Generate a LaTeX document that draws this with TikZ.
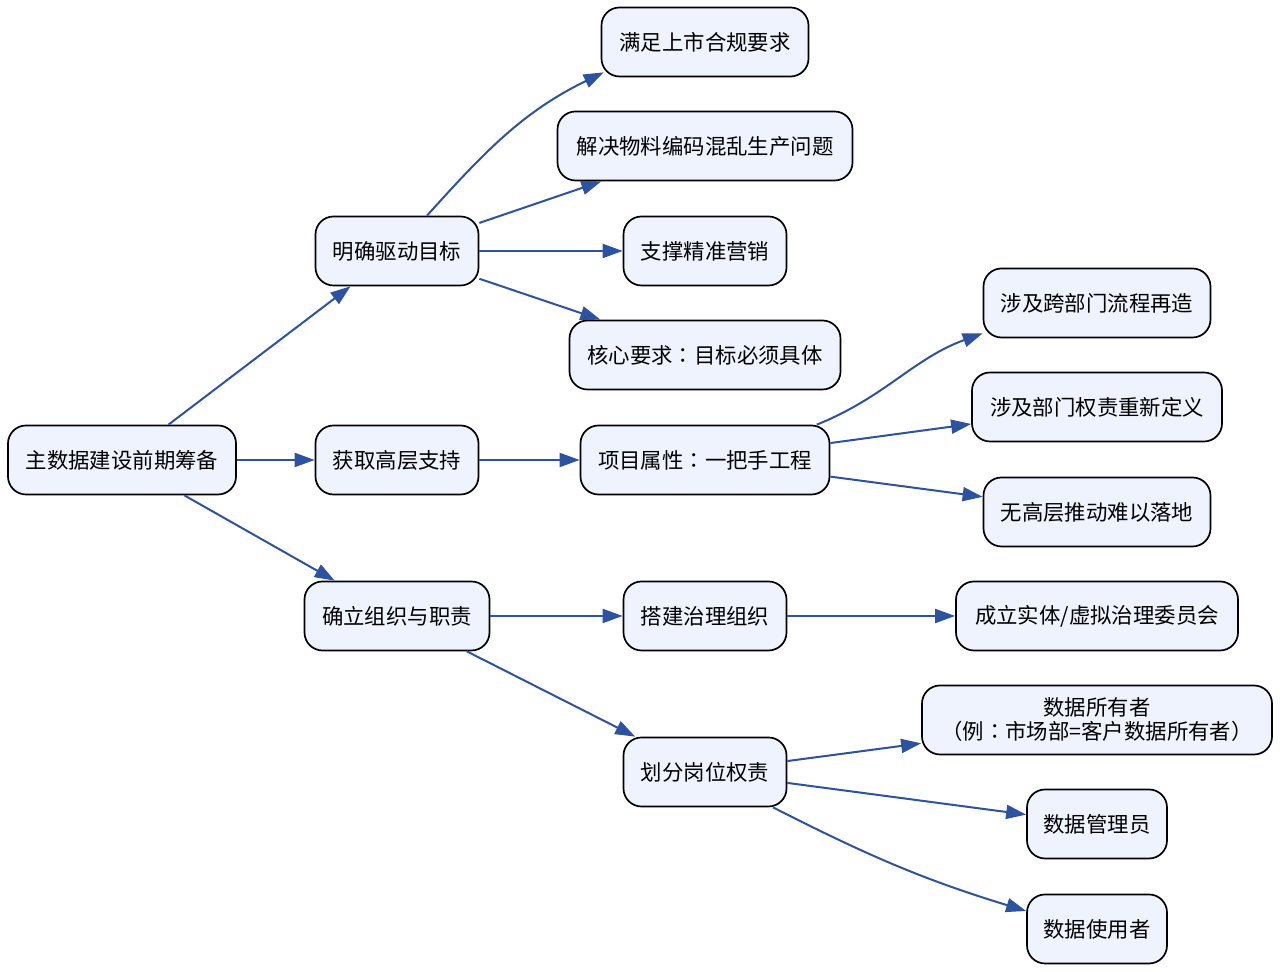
\documentclass[tikz,border=0pt]{standalone}
\usepackage{fontspec}
\setmainfont{Noto Sans CJK SC}
\newfontfamily\tcfont{Noto Sans CJK TC}
\newcommand{\cnColon}{{\tcfont ：}}
\usetikzlibrary{arrows.meta}
\definecolor{boxfill}{HTML}{EEF3FE}
\definecolor{edgeblue}{HTML}{2C52A0}
\tikzset{
  box/.style={draw=black, line width=0.85pt, fill=boxfill, rounded corners=9pt,
    minimum height=34.5pt, minimum width=#1*0.5pt, inner sep=0pt, align=center,
    font=\fontsize{10.7}{12}\selectfont},
  edge/.style={draw=edgeblue, line width=1pt, -{Triangle[length=10pt,width=7pt]}}
}
\begin{document}
\begin{tikzpicture}[x=0.5pt,y=0.5pt]
\useasboundingbox (0,0) rectangle (1280,972);
% level 0
\node[box=228] (root) at (122,512) {主数据建设前期筹备};
% level 1
\node[box=163] (mq) at (397,721) {明确驱动目标};
\node[box=163] (hq) at (397,512) {获取高层支持};
\node[box=185] (qd) at (397,356) {确立组织与职责};
% level 2
\node[box=207] (ms) at (705,930) {满足上市合规要求};
\node[box=295] (jj) at (705,826) {解决物料编码混乱生产问题};
\node[box=163] (zc) at (705,721) {支撑精准营销};
\node[box=271] (hx) at (705,617) {核心要求\cnColon 目标必须具体};
\node[box=249] (xm) at (705,512) {项目属性\cnColon 一把手工程};
\node[box=163] (dj) at (705,356) {搭建治理组织};
\node[box=163] (hf) at (705,200) {划分岗位权责};
% level 3
\node[box=227] (kbm) at (1097,669) {涉及跨部门流程再造};
\node[box=250] (bm) at (1097,565) {涉及部门权责重新定义};
\node[box=227] (wgc) at (1097,460) {无高层推动难以落地};
\node[box=282] (cl) at (1097,356) {成立实体/虚拟治理委员会};
\node[box=350] (syz) at (1097,252) {数据所有者\\（例\cnColon 市场部=客户数据所有者）};
\node[box=140] (gly) at (1097,148) {数据管理员};
\node[box=140] (syy) at (1097,43) {数据使用者};
% edges
\draw[edge] (root) -- (mq);
\draw[edge] (root) -- (hq);
\draw[edge] (root) -- (qd);
\draw[edge] ([xshift=15pt]mq.north) to[out=48,in=206] ([shift={(1.5pt,2.5pt)}]ms.south west);
\draw[edge] (mq) -- (jj);
\draw[edge] (mq) -- (zc);
\draw[edge] (mq) -- (hx);
\draw[edge] (hq) -- (xm);
\draw[edge] ([xshift=-6.75pt]xm.north east) to[out=22,in=200] ([yshift=2.5pt]kbm.south west);
\draw[edge] (xm) -- (bm);
\draw[edge] (xm) -- (wgc);
\draw[edge] (qd) -- (dj);
\draw[edge] (qd) -- (hf);
\draw[edge] (dj) -- (cl);
\draw[edge] (hf) -- (syz);
\draw[edge] (hf) -- (gly);
\draw[edge] ([xshift=34pt]hf.south) to[out=-27,in=163] ([yshift=9pt]syy.west);
\end{tikzpicture}
\end{document}
